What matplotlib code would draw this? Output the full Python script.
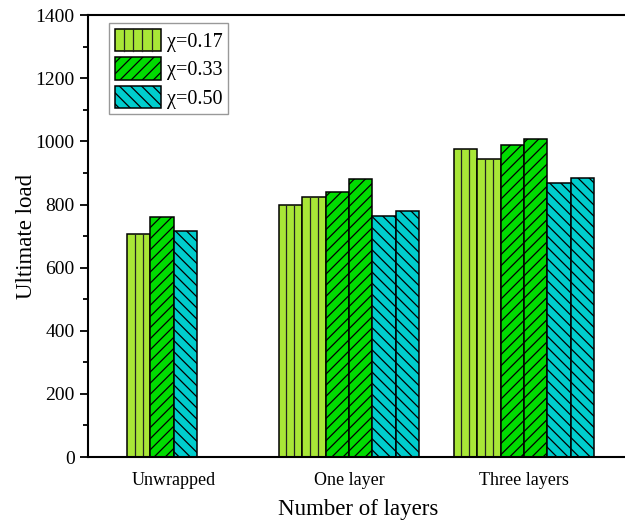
import numpy as np
import matplotlib
matplotlib.use("Agg")
import matplotlib.pyplot as plt
from matplotlib.ticker import MultipleLocator
from matplotlib.patches import Rectangle
from matplotlib.lines import Line2D
from matplotlib.legend_handler import HandlerBase

plt.rcParams['font.family'] = ['Liberation Serif', 'DejaVu Serif']
plt.rcParams['hatch.linewidth'] = 0.9

groups = ["Unwrapped", "One layer", "Three layers"]
labels = ["\u03c7=0.17", "\u03c7=0.33", "\u03c7=0.50"]

# two specimens per ratio for the wrapped groups, one for unwrapped
unwrapped = [705, 762, 717]
one_layer = [[798, 824], [841, 880], [763, 778]]
three_layers = [[975, 945], [989, 1006], [868, 884]]

colors = ["#A8E637", "#00DC00", "#00CDCD"]
hatches = [None, "///", "\\\\\\"]


class StripeHandler(HandlerBase):
    # legend box with vertical stripes every ~9 px
    def create_artists(self, legend, orig_handle, xdescent, ydescent,
                       width, height, fontsize, trans):
        x0, y0 = -xdescent, -ydescent
        rect = Rectangle((x0, y0), width, height, facecolor=orig_handle.get_facecolor(),
                         edgecolor="black", linewidth=1.1, transform=trans)
        arts = [rect]
        for f in np.arange(1, 5) / 5:
            arts.append(Line2D([x0 + f * width] * 2, [y0, y0 + height],
                               color="#222222", linewidth=0.9, transform=trans))
        return arts


def draw_bar(ax, x, v, i, label=None):
    bars = ax.bar(x, v, w, align="edge", color=colors[i], edgecolor="black",
                  linewidth=1.1, hatch=hatches[i], label=label)
    if i == 0:
        ax.vlines([x + w / 3, x + 2 * w / 3], 0, v, color="#222222", linewidth=0.9)
    return bars


w = 0.134
fig = plt.figure(figsize=(6.25, 5.22), dpi=100)
ax = fig.add_axes([0.1408, 0.1245, 0.8656, 0.8465])

handles = []
# unwrapped: one bar per ratio
for i, v in enumerate(unwrapped):
    b = draw_bar(ax, 0 - 2 * w + i * w, v, i, label=labels[i])
    handles.append(b.patches[0])

for g, data in [(1, one_layer), (2, three_layers)]:
    k = 0
    for i, pair in enumerate(data):
        for v in pair:
            draw_bar(ax, g - 3 * w + k * w, v, i)
            k += 1

ax.set_xlim(-0.491, 2.6)
ax.set_ylim(0, 1400)
ax.set_xticks(range(3))
ax.set_xticklabels(groups, fontsize=13)
ax.tick_params(axis='x', length=0, pad=11)
ax.yaxis.set_major_locator(MultipleLocator(200))
ax.yaxis.set_minor_locator(MultipleLocator(100))
ax.tick_params(axis='y', which='major', direction='out', length=6, width=1.3, labelsize=14)
ax.tick_params(axis='y', which='minor', direction='out', length=3.5, width=1.3)
for s in ax.spines.values():
    s.set_linewidth(1.5)

ax.set_xlabel("Number of layers", fontsize=16.5, labelpad=7)
ax.set_ylabel("Ultimate load", fontsize=16.5, labelpad=-1)

leg = ax.legend(handles, labels, loc="upper left",
                bbox_to_anchor=(109 / 625, 1 - 23 / 522), bbox_transform=fig.transFigure,
                fontsize=14.5, handlelength=2.3, handleheight=1.35,
                labelspacing=0.27, handletextpad=0.3, borderpad=0.28,
                borderaxespad=0, fancybox=False, edgecolor="#808080",
                handler_map={handles[0]: StripeHandler()})
leg.get_frame().set_linewidth(1.0)

fig.savefig("out.png", dpi=100)
